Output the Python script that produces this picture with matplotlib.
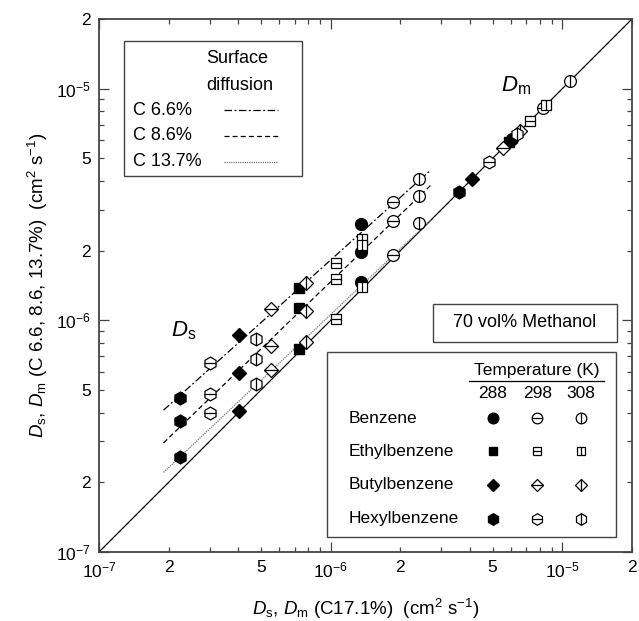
import numpy as np
import matplotlib
matplotlib.use('Agg')
import matplotlib.pyplot as plt
from matplotlib.ticker import LogLocator, FuncFormatter
from matplotlib.patches import Rectangle
from matplotlib.lines import Line2D

plt.rcParams['font.family'] = ['Liberation Sans', 'DejaVu Sans']
plt.rcParams['mathtext.fontset'] = 'custom'
plt.rcParams['mathtext.rm'] = 'Liberation Sans'
plt.rcParams['mathtext.it'] = 'Liberation Sans:italic'
plt.rcParams['mathtext.bf'] = 'Liberation Sans:bold'

compounds = ['Benzene', 'Ethylbenzene', 'Butylbenzene', 'Hexylbenzene']
temps = [288, 298, 308]
shapes = ['o', 's', 'D', 'h']

# order: compound x temperature (288, 298, 308)
ds_c171 = [1.35e-6, 1.86e-6, 2.41e-6,
           7.30e-7, 1.055e-6, 1.37e-6,
           4.02e-7, 5.53e-7, 7.83e-7,
           2.24e-7, 3.02e-7, 4.76e-7]
ds_c66 = [2.61e-6, 3.25e-6, 4.08e-6,
          1.38e-6, 1.77e-6, 2.25e-6,
          8.65e-7, 1.12e-6, 1.45e-6,
          4.62e-7, 6.55e-7, 8.31e-7]
ds_c86 = [1.97e-6, 2.69e-6, 3.45e-6,
          1.13e-6, 1.51e-6, 2.12e-6,
          5.93e-7, 7.75e-7, 1.10e-6,
          3.68e-7, 4.81e-7, 6.81e-7]
ds_c137 = [1.47e-6, 1.92e-6, 2.64e-6,
           7.53e-7, 1.01e-6, 1.39e-6,
           4.06e-7, 6.11e-7, 8.07e-7,
           2.57e-7, 3.98e-7, 5.31e-7]
dm = [6.07e-6, 8.26e-6, 1.08e-5,
      5.89e-6, 7.26e-6, 8.51e-6,
      4.08e-6, 5.55e-6, 6.57e-6,
      3.59e-6, 4.83e-6, 6.38e-6]

fit_series = [('C 6.6%', ds_c66, (0, (6, 2, 1.5, 2)), 'black'),
              ('C 8.6%', ds_c86, (0, (4, 2.5)), 'black'),
              ('C 13.7%', ds_c137, (0, (1, 0.8)), '#777777')]
fit_range = [1.9e-7, 2.7e-6]

lims = [1e-7, 2e-5]
spine_col = '#444444'

# bar length relative to markersize for each shape: (horizontal, vertical)
bar_ratio = {'o': (1.0, 1.0), 's': (1.0, 1.0), 'D': (1.414, 1.414), 'h': (0.866, 1.0)}
base_ms = {'o': 8.5, 's': 7.0, 'D': 7.2, 'h': 9.2}


def draw_marker(ax, x, y, shape, temp, scale=1.0, **kw):
    ms = base_ms[shape] * scale
    if temp == 288:
        ax.plot(x, y, marker=shape, ms=ms, mfc='black', mec='black',
                ls='none', zorder=3, **kw)
        return
    ax.plot(x, y, marker=shape, ms=ms, mfc='white', mec='black', mew=0.9,
            ls='none', zorder=3, **kw)
    if temp == 298:
        ax.plot(x, y, marker='_', ms=ms * bar_ratio[shape][0], mec='black',
                mew=0.9, ls='none', zorder=3, **kw)
    else:
        ax.plot(x, y, marker='|', ms=ms * bar_ratio[shape][1], mec='black',
                mew=0.9, ls='none', zorder=3, **kw)


def minor_label(v, pos):
    d = round(v / 10 ** np.floor(np.log10(v) + 1e-9))
    return '%d' % d if d in (2, 5) else ''


fig = plt.figure(figsize=(6.39, 6.21), dpi=100)
ax = fig.add_axes([99 / 639, 69 / 621, 533 / 639, 533 / 621])
ax.set_xscale('log')
ax.set_yscale('log')
ax.set_xlim(lims)
ax.set_ylim(lims)

# y = x line (molecular diffusivity)
ax.plot(lims, lims, color='black', lw=0.9, zorder=2)

# log-log fits of surface diffusivities
lx = np.log10(ds_c171)
for name, series, ls, col in fit_series:
    coef = np.polyfit(lx, np.log10(series), 1)
    xx = np.array(fit_range)
    yy = 10 ** np.polyval(coef, np.log10(xx))
    ax.plot(xx, yy, ls=ls, color=col, lw=0.9, zorder=2)

for i, comp in enumerate(compounds):
    for j, t in enumerate(temps):
        k = i * 3 + j
        for series in (ds_c66, ds_c86, ds_c137):
            draw_marker(ax, ds_c171[k], series[k], shapes[i], t)
        draw_marker(ax, dm[k], dm[k], shapes[i], t)

# ticks
for axis in (ax.xaxis, ax.yaxis):
    axis.set_major_locator(LogLocator(base=10))
    axis.set_minor_locator(LogLocator(base=10, subs=np.arange(2, 10)))
    axis.set_minor_formatter(FuncFormatter(minor_label))
ax.tick_params(which='both', direction='in', top=True, right=True,
               labelsize=12.5, labelcolor='black', color=spine_col, width=0.9)
ax.tick_params(which='major', length=7, pad=6)
ax.tick_params(which='minor', length=3.6, pad=6)
for sp in ax.spines.values():
    sp.set_color(spine_col)
    sp.set_linewidth(1.3)

ax.set_xlabel(r'$D_{\rm s}$, $D_{\rm m}$ (C17.1%)  (cm$^2$ s$^{-1}$)',
              fontsize=13.5, labelpad=12)
ax.set_ylabel(r'$D_{\rm s}$, $D_{\rm m}$ (C 6.6, 8.6, 13.7%)  (cm$^2$ s$^{-1}$)',
              fontsize=13.5, labelpad=4)

ax.text(0.135, 0.405, r'$D_{\rm s}$', transform=ax.transAxes, fontsize=16)
ax.text(0.755, 0.865, r'$D_{\rm m}$', transform=ax.transAxes, fontsize=16)

# surface diffusion key
T = ax.transAxes
ax.add_patch(Rectangle((0.047, 0.705), 0.334, 0.254, transform=T,
                       fill=True, fc='white', ec=spine_col, lw=1.0, zorder=4))
ax.text(0.201, 0.925, 'Surface', transform=T, fontsize=13, va='center', zorder=5)
ax.text(0.201, 0.876, 'diffusion', transform=T, fontsize=13, va='center', zorder=5)
for n, (name, series, ls, col) in enumerate(fit_series):
    yk = 0.829 - n * 0.0485
    ax.text(0.064, yk, name, transform=T, fontsize=13, va='center', zorder=5)
    ax.add_line(Line2D([0.235, 0.336], [yk, yk], transform=T, ls=ls,
                       color=col, lw=0.9, zorder=5))

# solvent box
ax.add_patch(Rectangle((0.627, 0.394), 0.345, 0.071, transform=T,
                       fill=True, fc='white', ec=spine_col, lw=1.0, zorder=4))
ax.text(0.799, 0.430, '70 vol% Methanol', transform=T, fontsize=13,
        ha='center', va='center', zorder=5)

# compound / temperature key
ax.add_patch(Rectangle((0.428, 0.028), 0.542, 0.347, transform=T,
                       fill=True, fc='white', ec=spine_col, lw=1.0, zorder=4))
ax.text(0.822, 0.340, 'Temperature (K)', transform=T, fontsize=12.5,
        ha='center', va='center', zorder=5)
ax.add_line(Line2D([0.694, 0.947], [0.321, 0.321], transform=T,
                   color='black', lw=0.9, zorder=5))
col_x = [0.739, 0.822, 0.904]
for j, t in enumerate(temps):
    ax.text(col_x[j], 0.298, str(t), transform=T, fontsize=12.5,
            ha='center', va='center', zorder=5)
row_y = [0.251, 0.189, 0.126, 0.062]
for i, comp in enumerate(compounds):
    ax.text(0.469, row_y[i], comp, transform=T, fontsize=12.5,
            va='center', zorder=5)
    for j, t in enumerate(temps):
        shape = shapes[i]
        msz = base_ms[shape] * 0.9
        if t == 288:
            ax.plot([col_x[j]], [row_y[i]], marker=shape, ms=msz, mfc='black',
                    mec='black', ls='none', transform=T, zorder=6)
        else:
            ax.plot([col_x[j]], [row_y[i]], marker=shape, ms=msz, mfc='white',
                    mec='black', mew=0.9, ls='none', transform=T, zorder=6)
            bar = '_' if t == 298 else '|'
            r = bar_ratio[shape][0 if t == 298 else 1]
            ax.plot([col_x[j]], [row_y[i]], marker=bar, ms=msz * r, mec='black',
                    mew=0.9, ls='none', transform=T, zorder=6)

fig.savefig('out.png', dpi=100)
